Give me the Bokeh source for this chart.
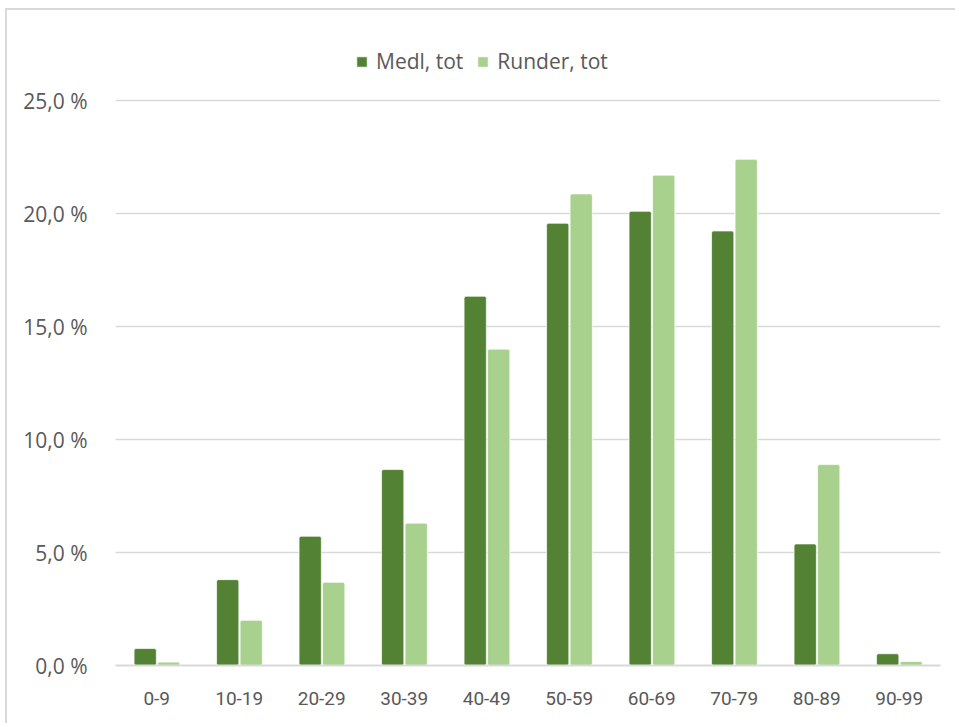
from bokeh.plotting import figure
from bokeh.models import (FactorRange, Range1d, CustomJSTickFormatter, Legend,
                          LegendItem, ColumnDataSource, FixedTicker)
from bokeh.transform import dodge
from bokeh.embed import file_html
from bokeh.resources import INLINE

categories = ["0-9", "10-19", "20-29", "30-39", "40-49", "50-59",
              "60-69", "70-79", "80-89", "90-99"]
medl_tot = [0.75, 3.8, 5.72, 8.67, 16.34, 19.57, 20.1, 19.23, 5.38, 0.52]
runder_tot = [0.15, 2.0, 3.68, 6.3, 14.0, 20.87, 21.7, 22.4, 8.89, 0.18]
y_ticks = [0, 5, 10, 15, 20, 25]
series_names = ["Medl, tot", "Runder, tot"]

DARK = "#548235"
LIGHT = "#A9D18E"
TEXT = "#595959"
GRID = "#D9D9D9"

source = ColumnDataSource(data=dict(cat=categories, medl=medl_tot, runder=runder_tot))

# frame extends above the 25 % line to leave room for the legend
p = figure(width=950, height=715, output_backend="svg", toolbar_location=None,
           x_range=FactorRange(factors=categories, range_padding=0),
           y_range=Range1d(0, 28.1),
           min_border_left=108, min_border_right=17, min_border_top=20,
           min_border_bottom=60)
p.styles = {"border-top": "2px solid #D9D9D9", "border-left": "2px solid #D9D9D9",
            "margin-top": "8px", "margin-left": "5px"}
p.outline_line_color = None
p.background_fill_color = "white"
p.border_fill_color = "white"

r1 = p.vbar(x=dodge("cat", -0.14, range=p.x_range), top="medl", width=0.27,
            source=source, fill_color=DARK, line_color="white", line_alpha=0.7,
            line_width=1, border_radius=2)
r2 = p.vbar(x=dodge("cat", 0.145, range=p.x_range), top="runder", width=0.27,
            source=source, fill_color=LIGHT, line_color="white", line_alpha=0.7,
            line_width=1, border_radius=2)

p.xgrid.grid_line_color = None
p.ygrid.grid_line_color = GRID
p.ygrid.grid_line_width = 1.5
p.yaxis.ticker = FixedTicker(ticks=y_ticks)
p.yaxis.formatter = CustomJSTickFormatter(
    code="return tick.toFixed(1).replace('.', ',') + ' %';")
p.yaxis.axis_line_color = None
p.yaxis.major_tick_line_color = None
p.yaxis.minor_tick_line_color = None
p.yaxis.major_label_standoff = 22
p.yaxis.major_label_text_font = "Open Sans"
p.yaxis.major_label_text_font_size = "21px"
p.yaxis.major_label_text_color = TEXT

p.xaxis.axis_line_color = GRID
p.xaxis.axis_line_width = 2
p.xaxis.major_tick_line_color = None
p.xaxis.minor_tick_line_color = None
p.xaxis.major_label_standoff = 20
p.xaxis.major_label_text_font = "Roboto"
p.xaxis.major_label_text_font_size = "19px"
p.xaxis.major_label_text_color = TEXT

legend = Legend(items=[LegendItem(label=series_names[0], renderers=[r1]),
                       LegendItem(label=series_names[1], renderers=[r2])],
                orientation="horizontal", location=(240, 590),
                glyph_width=13, glyph_height=13, label_standoff=8, spacing=13,
                padding=0, margin=0, border_line_color=None,
                background_fill_alpha=0,
                label_text_font="Open Sans", label_text_font_size="21px",
                label_text_color=TEXT)
p.add_layout(legend, "center")

open("out.html", "w").write(file_html(p, INLINE))
